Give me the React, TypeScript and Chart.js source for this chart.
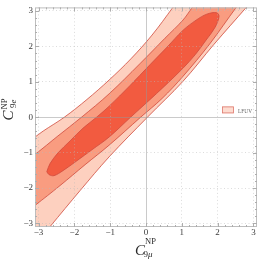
import { useEffect, useRef } from 'react';
import { Chart, registerables } from 'chart.js';

Chart.register(...registerables);

// ---- axes ----
const axisMin = -3.1;
const axisMax = 3.1;
const tickValues = [-3, -2, -1, 0, 1, 2, 3];
const tickLabels = ['−3', '−2', '−1', '0', '1', '2', '3'];
const legendLabel = 'LFUV';

// ---- contour edges: [C9mu, C9e] ----
// 3 sigma band: upper-left edge and lower-right edge
const band3Upper = [[-3.66, -0.95], [-3.10, -0.56], [-2.87, -0.39], [-2.28, 0.00], [-1.65, 0.50], [-1.03, 1.05], [-0.42, 1.65], [0.17, 2.32], [0.75, 3.10], [1.09, 3.58]];
const band3Lower = [[-3.52, -4.08], [-3.10, -3.60], [-2.68, -3.09], [-1.84, -2.07], [-1.03, -1.12], [0.04, 0.00], [1.03, 1.01], [1.90, 2.06], [2.80, 3.10], [3.15, 3.52]];
// 2 sigma band
const band2Upper = [[-3.66, -1.45], [-3.10, -1.05], [-2.46, -0.53], [-1.80, 0.00], [-1.03, 0.66], [-0.17, 1.51], [0.53, 2.23], [1.03, 2.74], [1.29, 3.10], [1.54, 3.46]];
const band2Lower = [[-3.66, -2.91], [-3.10, -2.49], [-2.40, -1.93], [-1.70, -1.34], [-1.03, -0.79], [-0.15, 0.00], [0.45, 0.53], [1.03, 1.15], [1.78, 2.07], [2.52, 3.10], [2.85, 3.52]];
// 1 sigma closed contour
const sigma1 = [[-2.77, -1.54], [-2.68, -1.31], [-2.46, -1.01], [-2.12, -0.67], [-1.76, -0.31], [-1.38, 0.00], [-1.03, 0.31], [-0.45, 0.89], [0.11, 1.48], [0.59, 1.98], [1.03, 2.45], [1.40, 2.74], [1.70, 2.91], [1.97, 2.95], [2.04, 2.85], [1.93, 2.54], [1.68, 2.18], [1.37, 1.76], [1.03, 1.38], [0.53, 0.89], [0.06, 0.45], [-0.43, 0.00], [-1.03, -0.56], [-1.51, -0.92], [-1.93, -1.23], [-2.32, -1.51], [-2.57, -1.65], [-2.71, -1.62], [-2.77, -1.54]];

const PALE = '#fdd0bf';
const SALMON = '#f99c80';
const RED = '#f25b40';
const EDGE = '#cf4a3c';
const SERIF = '"Liberation Serif", "DejaVu Serif", serif';

const toPoints = (arr: number[][]) => arr.map(([x, y]) => ({ x, y }));
const bandShape = (upper: number[][], lower: number[][]) => toPoints([...upper, ...lower.slice().reverse()]);

function drawMath(ctx: CanvasRenderingContext2D, x: number, y: number, subLetter: string, supDx: number, supDy: number, subDx: number, subDy: number) {
  ctx.fillStyle = '#2a2a2a';
  ctx.textAlign = 'left';
  ctx.textBaseline = 'alphabetic';
  ctx.font = `italic 15px ${SERIF}`;
  ctx.fillText('C', x, y);
  const w = ctx.measureText('C').width;
  ctx.font = `8.5px ${SERIF}`;
  ctx.fillText('NP', x + w + supDx, y + supDy);
  ctx.font = `9px ${SERIF}`;
  ctx.fillText('9', x + w + subDx, y + subDy);
  const w9 = ctx.measureText('9').width;
  ctx.font = `italic 9px ${SERIF}`;
  ctx.fillText(subLetter, x + w + subDx + w9, y + subDy);
}

const decorPlugin = {
  id: 'decor',
  afterDraw(chart: any) {
    const { ctx, chartArea: a, scales } = chart;
    const xs = scales.x;
    const ys = scales.y;
    ctx.save();
    // frame
    ctx.strokeStyle = '#bdbdbd';
    ctx.lineWidth = 1;
    ctx.strokeRect(a.left + 0.5, a.top + 0.5, a.right - a.left - 1, a.bottom - a.top - 1);
    // inner ticks
    ctx.strokeStyle = '#adadad';
    ctx.beginPath();
    for (let i = -15; i <= 15; i++) {
      const v = i / 5;
      const len = i % 5 === 0 ? 4 : 2;
      const px = Math.round(xs.getPixelForValue(v)) + 0.5;
      ctx.moveTo(px, a.bottom);
      ctx.lineTo(px, a.bottom - len);
      ctx.moveTo(px, a.top);
      ctx.lineTo(px, a.top + len);
      const py = Math.round(ys.getPixelForValue(v)) + 0.5;
      ctx.moveTo(a.left, py);
      ctx.lineTo(a.left + len, py);
      ctx.moveTo(a.right, py);
      ctx.lineTo(a.right - len, py);
    }
    ctx.stroke();
    // legend
    const lx = a.right - 35;
    const ly = a.top + 99;
    ctx.fillStyle = '#fddcd0';
    ctx.fillRect(lx, ly, 12, 7);
    ctx.strokeStyle = '#de7a70';
    ctx.lineWidth = 0.8;
    ctx.strokeRect(lx + 0.5, ly + 0.5, 11, 6);
    ctx.fillStyle = '#666';
    ctx.font = `7px ${SERIF}`;
    ctx.textAlign = 'left';
    ctx.textBaseline = 'alphabetic';
    ctx.fillText(legendLabel, lx + 16, ly + 6.5, 14);
    // x title
    const cx = (a.left + a.right) / 2;
    drawMath(ctx, cx - 11, chart.height - 6, 'μ', 0, -11.5, -1.5, 1.5);
    // y title (rotated)
    ctx.save();
    ctx.translate(13, a.top + 113);
    ctx.rotate(-Math.PI / 2);
    drawMath(ctx, 0, 0, 'e', 1, -6, 2.5, 2.5);
    ctx.restore();
    ctx.restore();
  },
};

const gridColor = (c: any) => (c.tick && c.tick.value === 0 ? 'rgba(150,150,150,0.5)' : 'rgba(185,185,185,0.5)');
const gridDash = (c: any) => (c.tick && c.tick.value !== 0 ? [1, 2.5] : []);
const tickFmt = (v: any) => {
  const i = tickValues.indexOf(Number(v));
  return i >= 0 ? tickLabels[i] : '';
};

export default function App() {
  const ref = useRef<HTMLCanvasElement>(null);
  useEffect(() => {
    const canvas = ref.current;
    if (!canvas) return;
    const common = { showLine: true, fill: 'shape', borderColor: EDGE, borderWidth: 0.8, pointRadius: 0, tension: 0.35 };
    const chart = new Chart(canvas, {
      type: 'scatter',
      data: {
        datasets: [
          { ...common, label: '1σ', data: toPoints(sigma1), backgroundColor: RED },
          { ...common, label: '2σ', data: bandShape(band2Upper, band2Lower), backgroundColor: SALMON },
          { ...common, label: legendLabel, data: bandShape(band3Upper, band3Lower), backgroundColor: PALE },
        ] as any,
      },
      options: {
        responsive: false,
        animation: false,
        events: [],
        layout: { padding: { top: 5, right: 5, left: 0, bottom: 0 } },
        elements: { line: { capBezierPoints: false }, point: { radius: 0 } },
        plugins: { legend: { display: false }, tooltip: { enabled: false } },
        scales: {
          x: {
            type: 'linear',
            min: axisMin,
            max: axisMax,
            afterFit: (s: any) => { s.height = 34; },
            ticks: { stepSize: 1, includeBounds: false, padding: 0, autoSkip: false, maxRotation: 0, color: '#3a3a3a', font: { family: SERIF, size: 9 }, callback: tickFmt },
            grid: { z: 1, drawTicks: false, color: gridColor, lineWidth: 1 },
            border: { display: false, dash: gridDash },
          },
          y: {
            type: 'linear',
            min: axisMin,
            max: axisMax,
            afterFit: (s: any) => { s.width = 35; },
            ticks: { stepSize: 1, includeBounds: false, padding: 2, autoSkip: false, color: '#3a3a3a', font: { family: SERIF, size: 9 }, callback: tickFmt },
            grid: { z: 1, drawTicks: false, color: gridColor, lineWidth: 1 },
            border: { display: false, dash: gridDash },
          },
        },
      } as any,
      plugins: [decorPlugin],
    });
    return () => chart.destroy();
  }, []);
  return (
    <div style={{ position: 'fixed', left: 0, top: 0, width: 262, height: 261, background: '#fff' }}>
      <canvas ref={ref} width={262} height={261} style={{ width: 262, height: 261, display: 'block' }} />
    </div>
  );
}
